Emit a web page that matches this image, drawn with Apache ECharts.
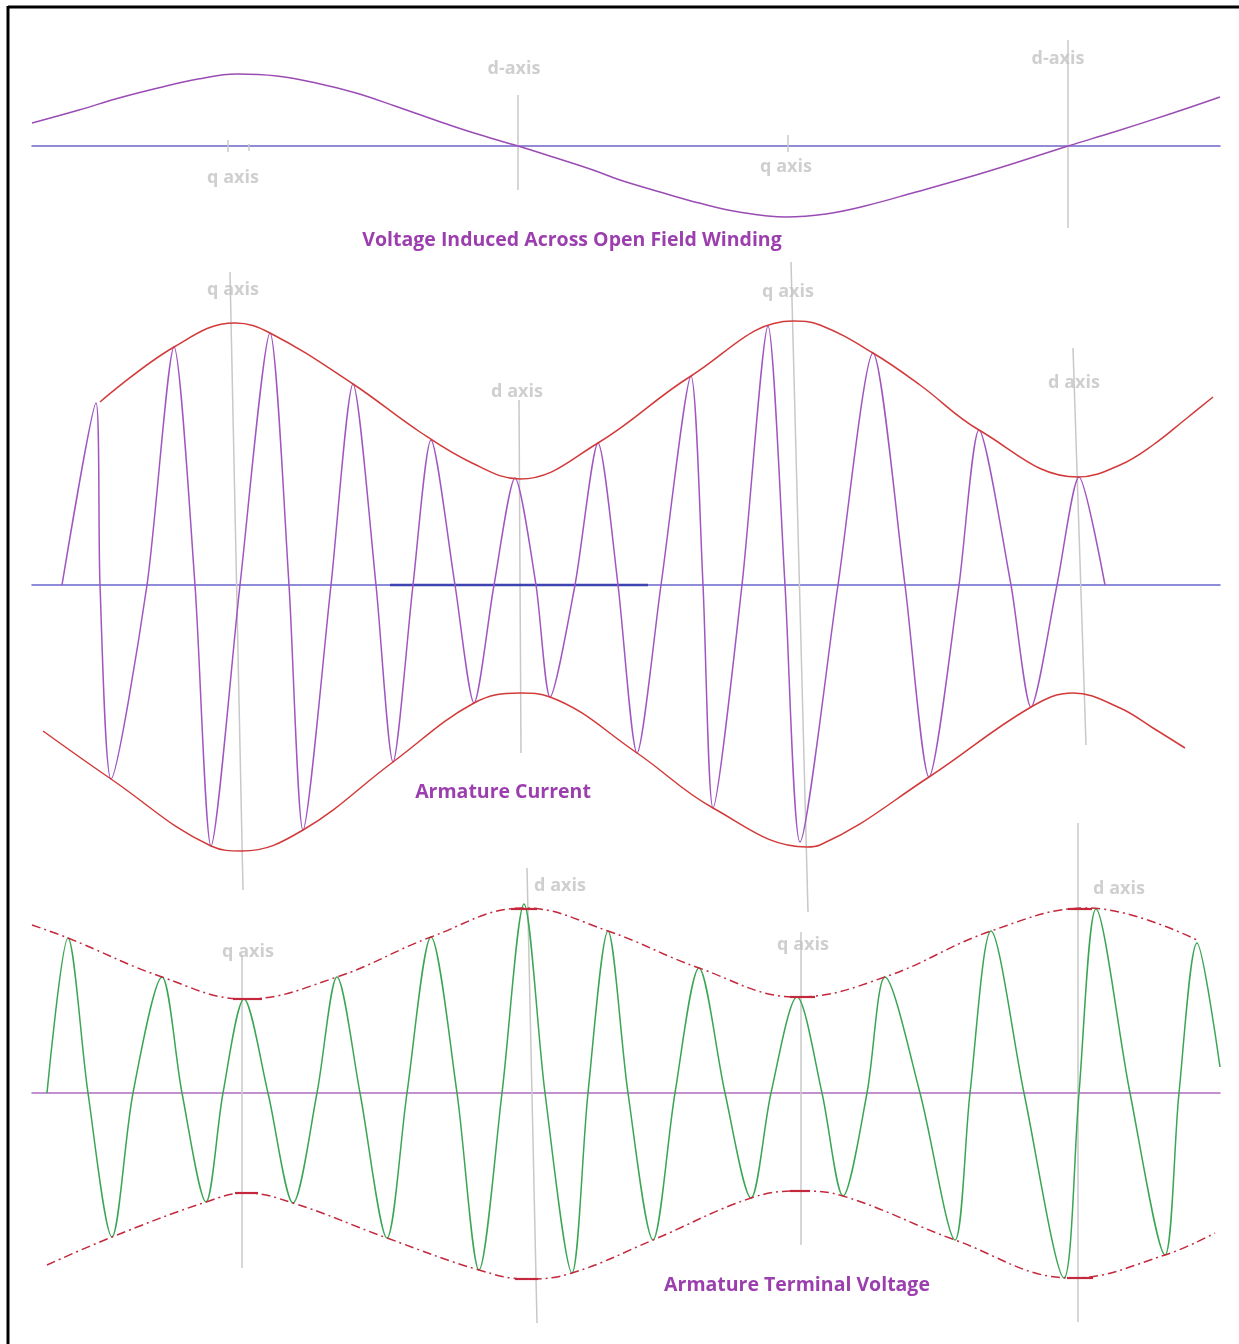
<!DOCTYPE html>
<html>
<head>
    <meta charset="utf-8">
    <title>Slip test waveforms</title>
    <script src="https://cdn.jsdelivr.net/npm/echarts@6/dist/echarts.min.js"></script>
    <style>
        html, body { margin: 0; padding: 0; background: #fff; }
        #main { width: 1239px; height: 1344px; }
    </style>
</head>
<body>
    <div id="main"></div>
    <script type="text/javascript">
        // t = time along the trace, a = amplitude (0 = baseline of that trace)

        // voltage induced across the open field winding
        var fieldVoltage = [[0,23],[47,36],[87,48],[126,58],[166,67],[205,72],[245,70],[284,63],[324,53],
            [363,40],[403,26],[442,13],[486,0],[521,-11],[561,-24],[588,-34],[628,-46],[667,-57],[707,-66],
            [754,-71],[794,-68],[833,-60],[884,-46],[944,-29],[983,-17],[1036,0],[1082,14],[1141,33],[1188,49]];

        // armature current + its envelope
        var currentWave = [[30,0],[64,182],[68,0],[79,-194],[115,0],[142,238],[163,0],[179,-261],[208,0],
            [238,252],[257,0],[271,-245],[299,0],[321,201],[344,0],[361,-177],[381,0],[399,145],[423,0],
            [442,-118],[462,0],[483,107],[504,0],[518,-112],[543,0],[566,142],[586,0],[605,-168],[629,0],
            [659,209],[671,0],[681,-223],[710,0],[736,259],[753,0],[768,-257],[806,0],[841,232],[873,0],
            [897,-192],[927,0],[947,155],[979,0],[999,-122],[1025,0],[1047,108],[1073,0]];
        var currentUpper = [[68,183],[142,238],[203,262],[238,252],[321,201],[388,153],[440,122],[488,106],
            [566,142],[659,209],[761,264],[788,260],[841,232],[888,200],[947,155],[1046,108],[1088,120],
            [1121,140],[1155,167],[1181,188]];
        var currentLower = [[11,-146],[79,-194],[179,-261],[210,-266],[271,-245],[361,-177],[442,-118],
            [488,-108],[518,-112],[605,-168],[681,-223],[775,-262],[788,-260],[897,-192],[999,-122],
            [1041,-108],[1088,-123],[1121,-143],[1153,-163]];
        var currentDarkBase = [[358,0],[616,0]];

        // armature terminal voltage + its envelope
        var terminalWave = [[15,0],[36,155],[56,0],[80,-144],[101,0],[130,116],[150,0],[174,-109],[191,0],
            [212,94],[236,0],[261,-110],[285,0],[305,116],[328,0],[355,-145],[375,0],[399,156],[425,0],
            [447,-177],[470,0],[492,189],[513,0],[540,-180],[556,0],[576,162],[596,0],[621,-147],[643,0],
            [667,125],[693,0],[719,-105],[739,0],[765,96],[790,0],[811,-103],[835,0],[853,116],[888,0],
            [923,-147],[938,0],[959,162],[992,0],[1032,-185],[1047,0],[1064,184],[1098,0],[1133,-162],
            [1147,0],[1165,150],[1188,26]];
        var terminalUpper = [[0,168],[36,155],[130,116],[213,94],[305,116],[399,156],[492,185],[576,162],
            [667,125],[765,96],[853,116],[959,162],[1056,185],[1165,153]];
        var terminalLower = [[15,-172],[80,-144],[174,-109],[213,-100],[261,-110],[355,-145],[447,-177],
            [495,-186],[540,-180],[621,-147],[719,-105],[768,-98],[811,-103],[923,-147],[1040,-185],
            [1133,-162],[1183,-140]];
        // short solid pieces drawn at the envelope turning points: [tStart, tEnd, a]
        var terminalFlats = [[201,230,94],[203,226,-100],[479,505,184],[483,506,-186],
            [758,783,96],[758,778,-98],[1036,1060,184],[1035,1061,-185]];

        // d / q axis markers: [tTop, aTop, tBottom, aBottom]
        var fieldMarks = [[196,6,196,-6],[217,2,217,-5],[486,51,486,-44],[756,11,756,-6],[1036,106,1036,-82]];
        var currentMarks = [[198,313,211,-305],[487,185,489,-168],[759,323,776,-327],[1041,237,1054,-160]];
        var terminalMarks = [[210,138,210,-175],[495,225,505,-230],[769,161,769,-152],[1046,270,1046,-229]];

        // marker labels: [text, t, a]
        var fieldLabels = [['d-axis',482,77],['d-axis',1026,87],['q axis',201,-32],['q axis',754,-21]];
        var currentLabels = [['q axis',201,295],['d axis',485,193],['q axis',756,293],['d axis',1042,202]];
        var terminalLabels = [['q axis',216,141],['d axis',528,207],['q axis',771,148],['d axis',1087,204]];

        var titles = ['Voltage Induced Across Open Field Winding', 'Armature Current', 'Armature Terminal Voltage'];

        var myChart = echarts.init(document.getElementById('main'));

        var grids = [
            {left: 32, right: 19, top: 46, height: 200},
            {left: 32, right: 19, top: 285, height: 600},
            {left: 32, right: 19, top: 893, height: 400}
        ];
        var yRange = [100, 300, 200];
        var baseColor = ['#6f64c8', '#6a66cc', '#b06cc0'];

        var xAxes = [], yAxes = [];
        for (var i = 0; i < 3; i++) {
            xAxes.push({
                type: 'value', gridIndex: i, min: 0, max: 1188,
                axisLine: {show: true, onZero: true, lineStyle: {color: baseColor[i], width: 1.5}},
                axisTick: {show: false}, axisLabel: {show: false}, splitLine: {show: false}
            });
            yAxes.push({
                type: 'value', gridIndex: i, min: -yRange[i], max: yRange[i],
                axisLine: {show: false}, axisTick: {show: false}, axisLabel: {show: false}, splitLine: {show: false}
            });
        }

        function curve(g, data, color, smooth, dashed) {
            return {
                type: 'line', xAxisIndex: g, yAxisIndex: g, data: data,
                symbol: 'none', smooth: smooth, clip: false, silent: true, z: 3,
                lineStyle: {color: color, width: 1.5, type: dashed ? [9, 4, 2, 4] : 'solid'}
            };
        }
        function marks(g, list) {
            return list.map(function (m) {
                return {
                    type: 'line', xAxisIndex: g, yAxisIndex: g,
                    data: [[m[0], m[1]], [m[2], m[3]]],
                    symbol: 'none', clip: false, silent: true, z: 2,
                    lineStyle: {color: '#c8c8c8', width: 1.5}
                };
            });
        }
        function flats(g, list) {
            return list.map(function (f) {
                return {
                    type: 'line', xAxisIndex: g, yAxisIndex: g,
                    data: [[f[0], f[2]], [f[1], f[2]]],
                    symbol: 'none', clip: false, silent: true, z: 3,
                    lineStyle: {color: '#c4283c', width: 2.2}
                };
            });
        }
        function labels(g, list) {
            return {
                type: 'scatter', xAxisIndex: g, yAxisIndex: g, clip: false, silent: true,
                symbolSize: 1, itemStyle: {color: 'rgba(0,0,0,0)'}, z: 4,
                data: list.map(function (l) { return {name: l[0], value: [l[1], l[2]]}; }),
                label: {
                    show: true, position: 'inside', formatter: '{b}',
                    color: '#c3c3c3', fontSize: 18, fontWeight: 'bold', fontFamily: 'Open Sans'
                }
            };
        }

        var series = [];
        series = series.concat(marks(0, fieldMarks), marks(1, currentMarks), marks(2, terminalMarks));
        series.push(curve(0, fieldVoltage, '#9a4cb4', 0.4, false));
        series.push(curve(1, currentDarkBase, '#3d44b0', false, false));
        series[series.length - 1].lineStyle.width = 2.5;
        series.push(curve(1, currentWave, '#a056c0', 0.25, false));
        series.push(curve(1, currentUpper, '#d23a3a', 0.4, false));
        series.push(curve(1, currentLower, '#d23a3a', 0.4, false));
        series.push(curve(2, terminalWave, '#3aa653', 0.3, false));
        series.push(curve(2, terminalUpper, '#c4283c', 0.4, true));
        series.push(curve(2, terminalLower, '#c4283c', 0.4, true));
        series = series.concat(flats(2, terminalFlats));
        series.push(labels(0, fieldLabels), labels(1, currentLabels), labels(2, terminalLabels));

        var titlePos = [[572, 240], [503, 792], [797, 1285]];
        var graphics = [
            {type: 'line', shape: {x1: 8, y1: 7, x2: 1239, y2: 7}, style: {stroke: '#000', lineWidth: 3}},
            {type: 'line', shape: {x1: 8, y1: 6, x2: 8, y2: 1344}, style: {stroke: '#000', lineWidth: 3}}
        ];
        titles.forEach(function (t, i) {
            graphics.push({
                type: 'text', x: titlePos[i][0], y: titlePos[i][1],
                style: {
                    text: t, align: 'center', verticalAlign: 'middle', fill: '#9c3fae',
                    fontSize: 19.5, fontWeight: 'bold', fontFamily: 'Open Sans'
                }
            });
        });

        var option = {
            animation: false,
            backgroundColor: '#fff',
            grid: grids,
            xAxis: xAxes,
            yAxis: yAxes,
            graphic: graphics,
            series: series
        };
        myChart.setOption(option);
    </script>
</body>
</html>
